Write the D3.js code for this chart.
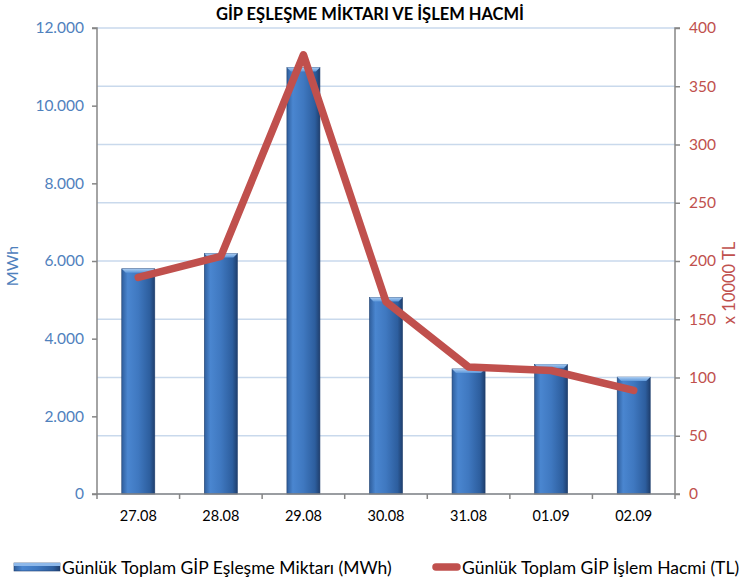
<!DOCTYPE html>
<html>
<head>
<meta charset="utf-8">
<script src="https://cdn.jsdelivr.net/npm/d3@7"></script>
<style>
body { margin: 0; background: #fff; }
svg { font-family: Lato, "Open Sans", sans-serif; }
</style>
</head>
<body>
<svg width="739" height="585"></svg>
<script>
// Chart data
let days = ['27.08', '28.08', '29.08', '30.08', '31.08', '01.09', '02.09'];
let matched = [5800, 6190, 10980, 5060, 3220, 3340, 3010]; // MWh
let volume = [186, 204, 377, 165, 109, 106, 89]; // x 10000 TL
let leftTicks = [0, 2000, 4000, 6000, 8000, 10000, 12000];
let rightTicks = [0, 50, 100, 150, 200, 250, 300, 350, 400];

let svg = d3.select('svg');

let plotL = 97, plotR = 675, plotT = 28, plotB = 494;
let blue = '#4F81BD', red = '#C0504D', axisCol = '#868686';

let x = d3.scaleBand().domain(days).range([plotL, plotR]).paddingInner(0.6).paddingOuter(0.3);
let yL = d3.scaleLinear().domain([0, 12000]).range([plotB, plotT]);
let yR = d3.scaleLinear().domain([0, 400]).range([plotB, plotT]);

// Gradients for bars
let defs = svg.append('defs');
let g = defs.append('linearGradient').attr('id', 'barGrad').attr('x1', 0).attr('x2', 1).attr('y1', 0).attr('y2', 0);
g.append('stop').attr('offset', '0%').attr('stop-color', '#2F5E9C');
g.append('stop').attr('offset', '18%').attr('stop-color', '#4A86D0');
g.append('stop').attr('offset', '50%').attr('stop-color', '#3F78C0');
g.append('stop').attr('offset', '85%').attr('stop-color', '#2D5E9E');
g.append('stop').attr('offset', '100%').attr('stop-color', '#1F3F6E');
let gt = defs.append('linearGradient').attr('id', 'topGrad').attr('x1', 0).attr('x2', 0).attr('y1', 0).attr('y2', 1);
gt.append('stop').attr('offset', '0%').attr('stop-color', '#A9CBF0');
gt.append('stop').attr('offset', '100%').attr('stop-color', '#5C97DA');

// Gridlines (follow right axis)
svg.append('g')
	.selectAll('line')
	.data(rightTicks)
	.join('line')
	.attr('x1', plotL).attr('x2', plotR)
	.attr('y1', d => yR(d)).attr('y2', d => yR(d))
	.attr('stroke', '#C9D9EC').attr('stroke-width', 1.5);

// Bars
let bars = svg.append('g').selectAll('g').data(matched).join('g');
bars.append('rect')
	.attr('x', (d, i) => x(days[i]))
	.attr('y', d => yL(d))
	.attr('width', x.bandwidth())
	.attr('height', d => plotB - yL(d))
	.attr('fill', 'url(#barGrad)')
	.attr('stroke', '#1F3F6E').attr('stroke-width', 0.6);
bars.append('path')
	.attr('d', (d, i) => {
		let x0 = x(days[i]), w = x.bandwidth(), y0 = yL(d), b = 4;
		return 'M' + x0 + ',' + y0 + 'L' + (x0 + w) + ',' + y0 + 'L' + (x0 + w - b) + ',' + (y0 + b) + 'L' + (x0 + b) + ',' + (y0 + b) + 'Z';
	})
	.attr('fill', 'url(#topGrad)');

// Axes
let axL = svg.append('g').attr('transform', 'translate(' + plotL + ',0)')
	.call(d3.axisLeft(yL).tickValues(leftTicks).tickSize(5).tickPadding(8)
		.tickFormat(d => d3.format(',')(d).replace(/,/g, '.')));
let axR = svg.append('g').attr('transform', 'translate(' + plotR + ',0)')
	.call(d3.axisRight(yR).tickValues(rightTicks).tickSize(5).tickPadding(9));
let axX = svg.append('g').attr('transform', 'translate(0,' + plotB + ')')
	.call(d3.axisBottom(x).tickSize(0).tickPadding(17));

// x ticks between categories
svg.append('g').selectAll('line')
	.data(d3.range(days.length + 1))
	.join('line')
	.attr('x1', i => plotL + i * (plotR - plotL) / days.length)
	.attr('x2', i => plotL + i * (plotR - plotL) / days.length)
	.attr('y1', plotB).attr('y2', plotB + 5)
	.attr('stroke', axisCol).attr('stroke-width', 1.5);

[axL, axR, axX].forEach(a => {
	a.selectAll('.domain').attr('stroke', axisCol).attr('stroke-width', 1.5);
	a.selectAll('.tick line').attr('stroke', axisCol).attr('stroke-width', 1.5);
	a.selectAll('text').attr('font-size', 15.5).attr('font-family', 'Lato, sans-serif');
});
axL.select('.domain').attr('d', 'M-5,' + plotT + 'H0V' + plotB + 'H-5');
axR.select('.domain').attr('d', 'M5,' + plotT + 'H0V' + plotB + 'H5');
axX.select('.domain').attr('d', 'M' + plotL + ',0H' + plotR);
axL.selectAll('text').attr('fill', blue);
axR.selectAll('text').attr('fill', red);
axX.selectAll('text').attr('fill', '#000').attr('font-size', 14.5);

// Line
let line = d3.line().x((d, i) => x(days[i]) + x.bandwidth() / 2).y(d => yR(d));
svg.append('path')
	.datum(volume)
	.attr('d', line)
	.attr('fill', 'none')
	.attr('stroke', red)
	.attr('stroke-width', 7.5)
	.attr('stroke-linejoin', 'round')
	.attr('stroke-linecap', 'round');

// Title and axis labels
svg.append('text').attr('x', 370).attr('y', 20).attr('text-anchor', 'middle')
	.attr('font-size', 16.5).attr('font-weight', 'bold').attr('fill', '#000')
	.text('GİP EŞLEŞME MİKTARI VE İŞLEM HACMİ');
svg.append('text').attr('transform', 'translate(18,266) rotate(-90)').attr('text-anchor', 'middle')
	.attr('font-size', 16).attr('fill', blue).text('MWh');
svg.append('text').attr('transform', 'translate(735,283) rotate(-90)').attr('text-anchor', 'middle')
	.attr('font-size', 16.5).attr('fill', red).text('x 10000 TL');

// Legend
let leg = svg.append('g').attr('font-size', 17.5);
leg.append('rect').attr('x', 14).attr('y', 563).attr('width', 46).attr('height', 8)
	.attr('fill', 'url(#barGrad)').attr('stroke', '#1F3F6E').attr('stroke-width', 0.6);
leg.append('rect').attr('x', 14).attr('y', 563).attr('width', 46).attr('height', 3).attr('fill', '#8DB8EA');
leg.append('text').attr('x', 62).attr('y', 574).text('Günlük Toplam GİP Eşleşme Miktarı (MWh)');
leg.append('line').attr('x1', 436).attr('x2', 457).attr('y1', 567).attr('y2', 567)
	.attr('stroke', red).attr('stroke-width', 7.5).attr('stroke-linecap', 'round');
leg.append('text').attr('x', 462).attr('y', 574).text('Günlük Toplam GİP İşlem Hacmi (TL)');
</script>
</body>
</html>
